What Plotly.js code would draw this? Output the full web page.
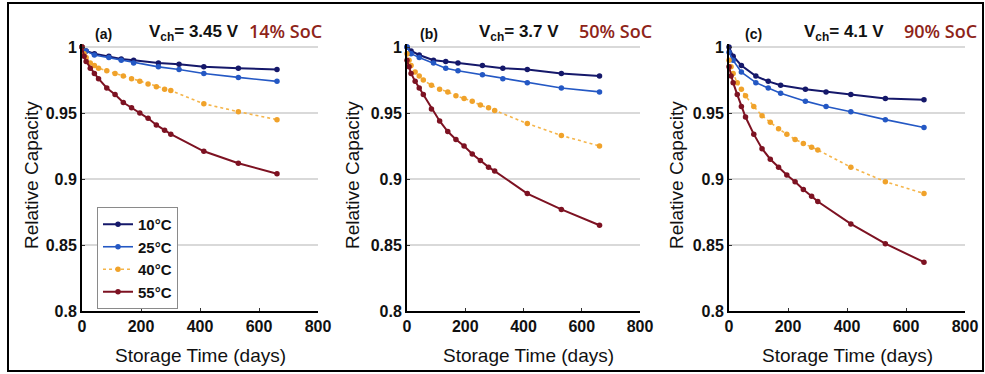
<!DOCTYPE html>
<html>
<head>
<meta charset="utf-8">
<script src="https://cdn.plot.ly/plotly-3.0.1.min.js"></script>
<style>
  html, body { margin: 0; padding: 0; background: #ffffff; }
  #chart { width: 985px; height: 374px; }
</style>
</head>
<body>
<div id="chart"></div>
<script>
// ---- data ----
const seriesNames = ['10°C', '25°C', '40°C', '55°C'];
const panelLabels = ['(a)', '(b)', '(c)'];
const voltageLabels = ['3.45 V', '3.7 V', '4.1 V'];
const socLabels = ['14% SoC', '50% SoC', '90% SoC'];

const daysSparse = [0, 14, 42, 91, 133, 175, 259, 329, 413, 530, 661];
const daysDense  = [0, 7, 14, 28, 42, 56, 84, 112, 140, 168, 196, 224, 252, 280, 301, 413, 530, 661];

// panel (a) 3.45 V
const a10 = [1.000, 0.997, 0.995, 0.993, 0.991, 0.990, 0.988, 0.987, 0.985, 0.984, 0.983];
const a25 = [1.000, 0.997, 0.994, 0.992, 0.990, 0.988, 0.985, 0.983, 0.980, 0.977, 0.974];
const a40 = [1.000, 0.995, 0.992, 0.988, 0.986, 0.984, 0.982, 0.980, 0.978, 0.976, 0.974, 0.972, 0.970, 0.968, 0.967, 0.957, 0.951, 0.945];
const a55 = [1.000, 0.993, 0.989, 0.984, 0.980, 0.976, 0.969, 0.964, 0.958, 0.954, 0.950, 0.946, 0.941, 0.937, 0.934, 0.921, 0.912, 0.904];

// panel (b) 3.7 V
const b10 = [1.000, 0.997, 0.994, 0.990, 0.989, 0.988, 0.986, 0.984, 0.983, 0.980, 0.978];
const b25 = [1.000, 0.995, 0.992, 0.988, 0.984, 0.982, 0.979, 0.976, 0.973, 0.969, 0.966];
const b40 = [0.995, 0.990, 0.986, 0.981, 0.978, 0.975, 0.971, 0.968, 0.966, 0.963, 0.961, 0.959, 0.956, 0.954, 0.952, 0.942, 0.933, 0.925];
const b55 = [0.990, 0.985, 0.980, 0.974, 0.969, 0.964, 0.953, 0.944, 0.936, 0.930, 0.925, 0.919, 0.914, 0.909, 0.906, 0.889, 0.877, 0.865];

// panel (c) 4.1 V
const c10 = [1.000, 0.993, 0.986, 0.978, 0.974, 0.971, 0.968, 0.966, 0.964, 0.961, 0.960];
const c25 = [0.996, 0.990, 0.981, 0.973, 0.969, 0.965, 0.959, 0.955, 0.951, 0.945, 0.939];
const c40 = [0.990, 0.985, 0.980, 0.973, 0.968, 0.963, 0.955, 0.948, 0.943, 0.938, 0.934, 0.930, 0.927, 0.924, 0.922, 0.909, 0.898, 0.889];
const c55 = [0.985, 0.978, 0.973, 0.964, 0.955, 0.947, 0.934, 0.923, 0.915, 0.909, 0.903, 0.898, 0.892, 0.887, 0.883, 0.866, 0.851, 0.837];

const xTicks = [0, 200, 400, 600, 800];
const yTicks = [0.8, 0.85, 0.9, 0.95, 1];
const yTickText = ['0.8', '0.85', '0.9', '0.95', '1'];

// ---- styling ----
const W = 985, H = 374;
const colors = ['#15186a', '#2458c4', '#f0a22a', '#7d1222'];
const lineColors = ['#15186a', '#2458c4', '#f5b54a', '#7d1222'];
const lineDash = ['solid', 'solid', 'dot', 'solid'];
const lineW = [2, 1.6, 1.6, 2];

const panels = [
  {vals: [a10, a25, a40, a55], x0: 82, x1: 318},
  {vals: [b10, b25, b40, b55], x0: 407, x1: 640},
  {vals: [c10, c25, c40, c55], x0: 729, x1: 965}
];
const yTopPx = 44.4, yBotPx = 311;

const traces = [];
const layout = {
  width: W, height: H,
  margin: {l: 0, r: 0, t: 0, b: 0},
  paper_bgcolor: '#ffffff',
  plot_bgcolor: '#ffffff',
  font: {family: 'Liberation Sans, Arial, sans-serif', color: '#111'},
  showlegend: true,
  legend: {
    x: 97 / W, y: 1 - 207 / H, xanchor: 'left', yanchor: 'top',
    bgcolor: '#ffffff', bordercolor: '#8a8a8a', borderwidth: 1,
    font: {family: 'Liberation Sans, Arial, sans-serif', size: 15, color: '#111', weight: 'bold'},
    tracegroupgap: 0, itemwidth: 30
  },
  annotations: [],
  shapes: [{
    type: 'rect', xref: 'paper', yref: 'paper',
    x0: 8 / W, x1: 983 / W, y0: 1 - 371 / H, y1: 1 - 3 / H,
    line: {color: '#000', width: 2}, fillcolor: 'rgba(0,0,0,0)'
  }]
};

const socColor = '#8e2418';
const vStart = [147, 477, 802];
const socStart = [247, 577, 902];
const labStart = [93, 418, 743];
const yTitleX = [31, 352, 676];

panels.forEach((p, i) => {
  const n = i + 1;
  const xa = n === 1 ? 'x' : 'x' + n;
  const ya = n === 1 ? 'y' : 'y' + n;
  const xkey = n === 1 ? 'xaxis' : 'xaxis' + n;
  const ykey = n === 1 ? 'yaxis' : 'yaxis' + n;
  p.vals.forEach((v, s) => {
    const xs = (s < 2) ? daysSparse : daysDense;
    traces.push({
      type: 'scatter', mode: 'lines+markers',
      x: xs, y: v, xaxis: xa, yaxis: ya,
      name: seriesNames[s], showlegend: i === 0,
      legendgroup: seriesNames[s],
      cliponaxis: false,
      line: {color: lineColors[s], width: lineW[s], dash: lineDash[s]},
      marker: {color: colors[s], size: 5.5, symbol: 'circle'}
    });
  });
  layout[xkey] = {
    domain: [p.x0 / W, p.x1 / W], anchor: ya,
    range: [0, 800], tickvals: xTicks, ticktext: xTicks.map(String),
    showgrid: false, zeroline: false,
    showline: true, linecolor: '#000', linewidth: 2,
    ticks: 'inside', ticklen: 3, tickcolor: '#333', tickwidth: 1,
    tickfont: {size: 16, color: '#111', weight: 'bold'},
    automargin: false, fixedrange: true
  };
  layout[ykey] = {
    domain: [1 - yBotPx / H, 1 - yTopPx / H], anchor: xa,
    range: [0.8, 1.002], tickvals: yTicks, ticktext: yTickText,
    showgrid: true, gridcolor: '#d9d9d9', gridwidth: 2,
    zeroline: false,
    showline: true, linecolor: '#000', linewidth: 2,
    ticks: 'inside', ticklen: 3, tickcolor: '#333', tickwidth: 1,
    tickfont: {size: 16, color: '#111', weight: 'bold'},
    automargin: false, fixedrange: true
  };
  // axis titles
  layout.annotations.push({
    xref: 'paper', yref: 'paper',
    x: ((p.x0 + p.x1) / 2 + (i === 1 ? 5 : 0)) / W, y: 1 - 355 / H,
    xanchor: 'center', yanchor: 'middle', showarrow: false,
    text: 'Storage Time (days)',
    font: {size: 19, color: '#111'}
  });
  layout.annotations.push({
    xref: 'paper', yref: 'paper',
    x: yTitleX[i] / W, y: 1 - 175 / H,
    xanchor: 'center', yanchor: 'middle', showarrow: false,
    textangle: -90,
    text: 'Relative Capacity',
    font: {size: 19, color: '#111'}
  });
  // panel titles
  layout.annotations.push({
    xref: 'paper', yref: 'paper',
    x: labStart[i] / W, y: 1 - 34 / H,
    xanchor: 'left', yanchor: 'middle', showarrow: false,
    text: panelLabels[i],
    font: {size: 14, color: '#111', weight: 'bold'}
  });
  layout.annotations.push({
    xref: 'paper', yref: 'paper',
    x: vStart[i] / W, y: 1 - 33 / H,
    xanchor: 'left', yanchor: 'middle', showarrow: false,
    text: 'V<sub>ch</sub>= ' + voltageLabels[i],
    font: {size: 17, color: '#111', weight: 'bold'}
  });
  layout.annotations.push({
    xref: 'paper', yref: 'paper',
    x: socStart[i] / W, y: 1 - 31 / H,
    xanchor: 'left', yanchor: 'middle', showarrow: false,
    text: socLabels[i],
    font: {family: 'Open Sans, sans-serif', size: 18, color: socColor, weight: 600}
  });
});

Plotly.newPlot('chart', traces, layout, {displayModeBar: false, staticPlot: true});
</script>
</body>
</html>
